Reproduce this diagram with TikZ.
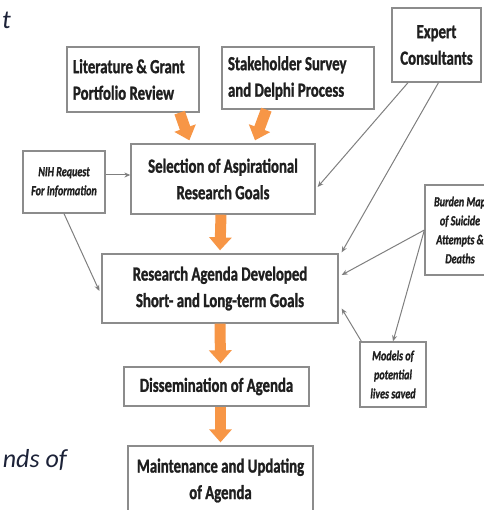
\documentclass[tikz,border=0pt]{standalone}
\usepackage{fontspec}
\setmainfont{Carlito}
\newfontfamily\boxfont[FakeStretch=0.74,FakeBold=1.2]{Carlito}
\newfontfamily\notefont[FakeStretch=0.72,FakeBold=1]{Carlito}
\usetikzlibrary{arrows.meta}

\definecolor{flow}{HTML}{F79646}
\definecolor{boxline}{HTML}{8C8C8C}
\definecolor{linkgray}{HTML}{7F7F7F}
\definecolor{inkdark}{HTML}{1C2238}

\tikzset{
  box/.style={draw=boxline, line width=1.3pt, fill=white, align=center,
    inner sep=0pt, text=black!88,
    font=\boxfont\bfseries\fontsize{20}{26.5}\selectfont},
  leftbox/.style={box, align=flush left},
  note/.style={box, font=\notefont\bfseries\itshape\fontsize{14}{19}\selectfont},
  flowarrow/.style={draw=flow, line width=11pt,
    -{Triangle[width=22pt,length=13pt]}},
  link/.style={draw=linkgray, line width=1pt,
    -{Stealth[length=6pt,width=5pt]}},
  backtext/.style={text=inkdark, inner sep=0pt,
    font=\itshape\fontsize{26}{30}\selectfont}
}

\begin{document}
\begin{tikzpicture}[x=1pt, y=-1pt]
  \useasboundingbox (0,0) rectangle (483,510);

  % fragments of surrounding slide text
  \node[backtext, anchor=base east] (frag1) at (11,29) {t};
  \node[backtext, anchor=base east] (frag2) at (67,467) {nds of};

  % input sources
  \node[leftbox, text width=120pt, minimum width=132pt, minimum height=65pt] (lit) at (133,79.5)
    {Literature \& Grant\\Portfolio Review};
  \node[leftbox, text width=140pt, minimum width=152pt, minimum height=62pt] (stake) at (298,78)
    {Stakeholder Survey\\and Delphi Process};
  \node[box, minimum width=89pt, minimum height=74pt] (expert) at (436.5,45)
    {Expert\\Consultants};
  \node[note, minimum width=82pt, minimum height=62pt] (nih) at (64,182)
    {NIH Request\\For Information};
  \node[note, minimum width=70pt, minimum height=90pt] (burden) at (460,230)
    {Burden Map\\of Suicide\\Attempts \&\\Deaths};
  \node[note, minimum width=66pt, minimum height=65pt] (models) at (393,374.5)
    {Models of\\potential\\lives saved};

  % main process chain
  \node[box, minimum width=184pt, minimum height=70pt] (sel) at (223,179)
    {Selection of Aspirational\\Research Goals};
  \node[box, minimum width=236pt, minimum height=69pt] (res) at (220,288.5)
    {Research Agenda Developed\\Short- and Long-term Goals};
  \node[box, minimum width=185pt, minimum height=39pt] (diss) at (216.5,386.5)
    {Dissemination of Agenda};
  \node[box, minimum width=185pt, minimum height=69pt] (maint) at (220.5,480.5)
    {Maintenance and Updating\\of Agenda};

  % orange flow arrows
  \draw[flowarrow] ([xshift=-20pt]lit.south east) -- ([xshift=59pt,yshift=3pt]sel.north west);
  \draw[flowarrow] ([xshift=45pt]stake.south west) -- ([xshift=32pt,yshift=3pt]sel.north);
  \draw[flowarrow] ([xshift=-2pt]sel.south) -- ([yshift=3pt]res.north);
  \draw[flowarrow] (res.south) -- ([xshift=4pt,yshift=3pt]diss.north);
  \draw[flowarrow] ([xshift=4pt]diss.south) -- ([yshift=3pt]maint.north);

  % gray influence links
  \draw[link] ([yshift=7pt]nih.east) -- ([yshift=4pt]sel.west);
  \draw[link] (nih.south) -- ([xshift=-2pt,yshift=-2.5pt]res.west);
  \draw[link] ([xshift=-28.5pt]expert.south) -- ([xshift=2pt,yshift=-8pt]sel.east);
  \draw[link] ([xshift=2pt]expert.south) -- ([xshift=3pt,yshift=1pt]res.north east);
  \draw[link] (burden.west) -- ([xshift=3pt,yshift=13.5pt]res.east);
  \draw[link] (burden.west) -- (models.north);
  \draw[link] ([xshift=2pt]models.north west) -- ([xshift=3pt,yshift=-20pt]res.east);
\end{tikzpicture}
\end{document}
